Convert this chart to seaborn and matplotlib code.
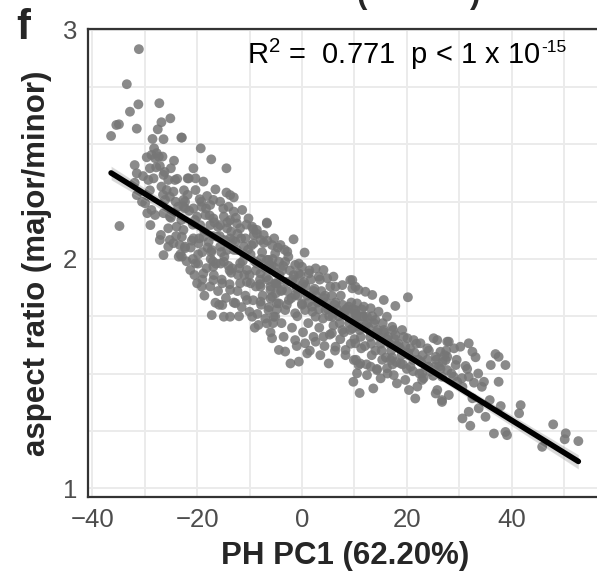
import matplotlib
matplotlib.use("Agg")
import matplotlib.pyplot as plt
import seaborn as sns
import pandas as pd

# ---- data (PH PC1, aspect ratio) ----
upper_left = [
    (-31.1, 2.916), (-33.4, 2.763), (-31.2, 2.675), (-32.8, 2.643), (-27.2, 2.680), (-35.4, 2.585),
    (-34.9, 2.588), (-36.4, 2.537), (-31.5, 2.569), (-26.8, 2.597), (-27.5, 2.566), (-25.1, 2.614),
    (-23.0, 2.530), (-28.5, 2.524), (-26.4, 2.523), (-28.2, 2.483), (-27.7, 2.462), (-28.0, 2.440),
    (-28.7, 2.454), (-27.3, 2.447), (-29.6, 2.444), (-26.6, 2.447), (-24.4, 2.429), (-31.9, 2.410),
    (-29.0, 2.396), (-27.1, 2.406), (-25.0, 2.396), (-31.5, 2.374), (-30.3, 2.362), (-29.3, 2.345),
    (-28.3, 2.352), (-26.4, 2.367), (-25.5, 2.345), (-24.2, 2.345), (-21.8, 2.352), (-31.9, 2.333),
    (-31.5, 2.279), (-26.8, 2.316), (-25.8, 2.301), (-24.5, 2.294), (-25.2, 2.272), (-29.9, 2.243),
    (-26.1, 2.258), (-24.1, 2.250), (-22.6, 2.258), (-23.6, 2.228), (-22.3, 2.221), (-28.7, 2.214),
    (-28.0, 2.192), (-26.4, 2.200), (-25.2, 2.185), (-34.8, 2.144), (-28.9, 2.148), (-25.5, 2.134),
    (-23.9, 2.141), (-22.6, 2.127), (-26.9, 2.105), (-27.1, 2.083), (-25.2, 2.083), (-24.5, 2.069),
    (-25.5, 2.054), (-23.3, 2.061), (-22.3, 2.047), (-26.4, 2.017), (-23.5, 2.010),
    (-27.8, 2.400), (-26.2, 2.380), (-25.0, 2.180), (-23.8, 2.350), (-22.5, 2.300), (-24.8, 2.200),
    (-23.0, 2.170), (-21.8, 2.280), (-26.5, 2.280), (-29.0, 2.300), (-30.5, 2.250), (-29.5, 2.200),
]

left_core = [
    (-22.9, 2.530), (-19.3, 2.483), (-17.3, 2.435), (-14.4, 2.396), (-20.7, 2.396), (-21.6, 2.352),
    (-20.3, 2.352), (-18.8, 2.338), (-20.3, 2.301), (-16.5, 2.304), (-18.1, 2.275), (-19.5, 2.261),
    (-16.9, 2.258), (-14.4, 2.290), (-13.7, 2.279), (-13.0, 2.269), (-22.3, 2.250), (-22.6, 2.228),
    (-20.7, 2.221), (-19.1, 2.228), (-17.5, 2.236), (-15.6, 2.250), (-14.0, 2.228), (-11.4, 2.214),
    (-13.0, 2.207), (-20.0, 2.185), (-18.4, 2.192), (-16.9, 2.177), (-14.9, 2.185), (-13.7, 2.170),
    (-12.4, 2.155), (-10.2, 2.177), (-19.4, 2.148), (-17.5, 2.148), (-15.6, 2.148), (-14.3, 2.134),
    (-11.8, 2.134), (-6.7, 2.155), (-9.5, 2.141), (-8.6, 2.127), (-22.9, 2.097), (-22.3, 2.054),
    (-22.9, 2.010), (-20.7, 2.090), (-19.7, 2.068), (-18.8, 2.097), (-17.8, 2.075), (-16.2, 2.097),
    (-14.9, 2.083), (-13.7, 2.090), (-12.7, 2.075), (-15.6, 2.054), (-17.2, 2.039), (-14.3, 2.039),
    (-12.4, 2.039), (-11.1, 2.054), (-9.2, 2.068), (-7.9, 2.083), (-7.3, 2.105), (-9.2, 2.105),
    (-10.8, 2.090), (-20.3, 1.981), (-21.3, 1.952), (-18.8, 1.937), (-16.9, 1.966), (-14.9, 1.988),
    (-13.3, 1.959), (-11.8, 1.981), (-10.5, 1.952), (-8.6, 1.981), (-6.7, 1.996), (-7.9, 1.937),
    (-5.4, 1.966), (-20.0, 1.894), (-19.1, 1.879), (-16.9, 1.908), (-15.2, 1.894), (-13.7, 1.865),
    (-11.8, 1.894), (-9.8, 1.894), (-7.9, 1.879), (-6.0, 1.865), (-4.8, 1.894), (-16.5, 1.809),
    (-15.2, 1.799), (-12.7, 1.807), (-10.5, 1.821), (-7.9, 1.814), (-6.0, 1.828), (-4.8, 1.807),
    (-17.2, 1.755), (-14.9, 1.748), (-13.7, 1.748), (-9.5, 1.748), (-8.3, 1.712), (-6.7, 1.719),
    (-5.4, 1.748),
]

mid_core = [
    (-6.7, 2.159), (-1.6, 2.086), (0.5, 2.028), (-5.7, 2.061), (-4.1, 2.061), (-2.8, 2.032),
    (-5.1, 2.025), (-6.4, 1.996), (-4.4, 1.988), (-3.2, 1.988), (-1.3, 1.974), (0.0, 1.966),
    (2.6, 1.959), (4.1, 1.952), (6.0, 1.923), (1.3, 1.937), (-0.6, 1.937), (3.2, 1.923),
    (4.8, 1.916), (9.2, 1.908), (7.7, 1.886), (9.6, 1.872), (10.8, 1.865), (6.4, 1.879),
    (-6.4, 1.908), (-5.1, 1.894), (-3.8, 1.865), (-5.7, 1.835), (-4.4, 1.806), (-2.5, 1.821),
    (-1.3, 1.843), (0.0, 1.806), (-3.2, 1.777), (-1.3, 1.763), (0.6, 1.777), (1.9, 1.792),
    (3.2, 1.814), (4.5, 1.777), (2.6, 1.748), (5.8, 1.748), (7.7, 1.763), (8.9, 1.792),
    (10.2, 1.777), (11.5, 1.748), (-5.1, 1.748), (-6.4, 1.777), (-5.7, 1.654), (-4.4, 1.603),
    (-3.2, 1.596), (-1.3, 1.646), (0.6, 1.632), (1.0, 1.588), (2.6, 1.639), (4.1, 1.661),
    (5.7, 1.676), (7.7, 1.690), (9.6, 1.697), (10.8, 1.705), (6.4, 1.617), (8.3, 1.603),
    (10.2, 1.632), (-2.2, 1.544), (-0.6, 1.552), (5.1, 1.544), (10.8, 1.537),
]

right_core = [
    (9.6, 1.908), (10.2, 1.879), (12.1, 1.857), (13.4, 1.843), (15.6, 1.821), (17.8, 1.795),
    (20.2, 1.833), (10.5, 1.806), (11.8, 1.792), (13.1, 1.785), (14.6, 1.770), (16.2, 1.748),
    (10.2, 1.763), (12.4, 1.748), (14.0, 1.734), (17.2, 1.704), (19.1, 1.690), (17.8, 1.668),
    (15.6, 1.690), (20.1, 1.654), (21.3, 1.646), (22.6, 1.632), (25.1, 1.654), (27.7, 1.639),
    (23.9, 1.610), (26.4, 1.595), (27.7, 1.573), (25.5, 1.573), (9.9, 1.559), (11.1, 1.544),
    (13.1, 1.530), (10.5, 1.501), (12.4, 1.493), (14.3, 1.515), (16.2, 1.523), (15.0, 1.479),
    (17.5, 1.493), (18.1, 1.457), (19.7, 1.472), (20.4, 1.428), (22.0, 1.443), (22.9, 1.472),
    (21.6, 1.391), (25.5, 1.413), (26.7, 1.376), (16.9, 1.559), (18.8, 1.544), (20.7, 1.530),
    (22.9, 1.501), (24.5, 1.508), (9.8, 1.464), (11.0, 1.415), (13.6, 1.435),
]

right_tail = [
    (25.8, 1.646), (28.0, 1.639), (30.2, 1.617), (31.8, 1.632), (32.5, 1.595), (33.1, 1.571),
    (36.9, 1.585), (37.5, 1.573), (36.0, 1.537), (38.8, 1.537), (27.4, 1.559), (26.1, 1.530),
    (27.7, 1.515), (29.3, 1.537), (31.2, 1.533), (26.7, 1.486), (28.9, 1.486), (29.6, 1.464),
    (31.8, 1.486), (30.6, 1.442), (34.7, 1.464), (34.3, 1.442), (37.5, 1.464), (25.8, 1.428),
    (26.7, 1.384), (28.0, 1.406), (32.5, 1.392), (35.8, 1.384), (37.9, 1.358), (41.7, 1.362),
    (41.4, 1.326), (31.8, 1.333), (30.6, 1.304), (32.1, 1.272), (33.7, 1.348), (35.0, 1.311),
    (36.6, 1.238), (38.8, 1.245), (39.1, 1.231), (47.9, 1.278), (50.3, 1.239), (50.1, 1.213),
    (52.7, 1.205), (45.8, 1.180), (28.5, 1.500), (29.5, 1.560), (30.5, 1.480), (31.5, 1.520),
    (32.8, 1.460), (33.6, 1.500), (27.5, 1.600), (29.0, 1.610),
]

dense_upper = [
    (-21.5, 2.21), (-21.0, 2.08), (-20.4, 2.17), (-19.8, 2.02), (-19.2, 2.25), (-18.6, 2.12),
    (-18.0, 2.05), (-17.6, 2.19), (-17.0, 2.10), (-16.4, 1.98), (-16.0, 2.14), (-15.4, 2.03),
    (-15.0, 2.22), (-14.6, 2.08), (-14.0, 1.97), (-13.5, 2.12), (-13.0, 2.04), (-12.6, 2.18),
    (-12.0, 1.96), (-11.6, 2.09), (-11.0, 2.02), (-10.6, 2.15), (-10.0, 1.93), (-9.6, 2.06),
    (-9.0, 1.99), (-8.6, 2.11), (-8.0, 1.91), (-7.6, 2.03), (-7.0, 1.96), (-6.6, 2.08),
    (-6.0, 1.88), (-5.6, 2.00), (-5.0, 1.94), (-4.6, 2.05), (-4.0, 1.86), (-3.6, 1.97),
    (-3.0, 1.90), (-2.6, 2.01), (-2.0, 1.83), (-1.6, 1.93), (-1.0, 1.87), (-0.6, 1.98),
    (0.0, 1.80), (0.4, 1.90), (1.0, 1.84), (1.4, 1.95), (2.0, 1.77), (2.4, 1.87),
    (3.0, 1.81), (3.4, 1.91), (4.0, 1.74), (4.4, 1.84), (5.0, 1.78), (5.4, 1.88),
    (6.0, 1.71), (6.4, 1.81), (7.0, 1.75), (7.4, 1.84), (8.0, 1.68), (8.4, 1.78),
    (9.0, 1.72), (9.4, 1.81), (10.0, 1.65), (10.4, 1.75), (11.0, 1.69), (11.4, 1.78),
    (12.0, 1.62), (12.4, 1.72), (13.0, 1.66), (13.4, 1.75), (14.0, 1.60), (14.4, 1.69),
    (15.0, 1.63), (15.4, 1.72), (16.0, 1.57), (16.4, 1.66), (17.0, 1.60), (17.4, 1.69),
    (18.0, 1.55), (18.4, 1.63), (19.0, 1.58), (19.4, 1.66), (20.0, 1.52), (20.6, 1.61),
    (21.2, 1.56), (21.8, 1.63), (22.4, 1.50), (23.0, 1.58), (23.6, 1.53), (24.2, 1.60),
    (25.0, 1.49), (25.6, 1.56), (26.4, 1.52), (27.2, 1.58),
]

dense_middle = [
    (-20.8, 2.15), (-19.6, 2.09), (-18.3, 2.22), (-17.3, 2.03), (-16.7, 2.16), (-15.7, 2.10),
    (-14.8, 2.01), (-14.2, 2.16), (-13.2, 2.08), (-12.3, 2.11), (-11.3, 1.99), (-10.3, 2.04),
    (-9.3, 2.13), (-8.3, 1.98), (-7.3, 2.07), (-6.3, 1.97), (-5.3, 2.09), (-4.3, 1.93),
    (-3.3, 2.04), (-2.3, 1.95), (-1.3, 1.90), (-0.3, 1.93), (0.7, 1.88), (1.7, 1.91),
    (2.7, 1.84), (3.7, 1.86), (4.7, 1.81), (5.7, 1.84), (6.7, 1.78), (7.7, 1.80),
    (8.7, 1.76), (9.7, 1.78), (10.7, 1.72), (11.7, 1.75), (12.7, 1.70), (13.7, 1.72),
    (14.7, 1.66), (15.7, 1.68), (16.7, 1.63), (17.7, 1.65), (18.7, 1.61), (19.7, 1.62),
    (20.3, 1.58), (21.5, 1.59), (22.7, 1.55), (23.9, 1.56), (25.3, 1.53), (26.8, 1.55),
]

dense_lower = [
    (-4.8, 1.78), (-3.9, 1.72), (-2.9, 1.80), (-1.9, 1.70), (-0.9, 1.75), (0.2, 1.68),
    (1.2, 1.72), (2.2, 1.66), (3.3, 1.70), (4.3, 1.62), (5.3, 1.67), (6.3, 1.60),
    (7.3, 1.65), (8.3, 1.58), (9.3, 1.63), (10.3, 1.56), (11.3, 1.61), (12.3, 1.54),
    (13.3, 1.58), (14.3, 1.52), (15.3, 1.56), (16.3, 1.50), (17.3, 1.54), (-7.5, 1.84),
    (-8.8, 1.88), (-10.5, 1.90), (-12.2, 1.93), (-13.8, 1.95), (-15.5, 1.98), (-17.4, 2.00),
    (-19.0, 2.03),
]

left_low = [
    (-24.0, 2.10), (-23.2, 2.02), (-22.0, 1.99), (-21.2, 2.05), (-20.5, 1.93), (-19.8, 1.98),
    (-19.0, 1.91), (-18.2, 1.96), (-17.5, 1.88), (-16.8, 1.93), (-16.0, 1.86), (-15.3, 1.91),
    (-14.5, 1.83), (-13.8, 1.89), (-13.0, 1.81), (-12.3, 1.86), (-11.5, 1.79), (-10.8, 1.84),
    (-10.0, 1.77), (-9.3, 1.82), (-8.5, 1.76), (-7.8, 1.80), (-7.0, 1.74), (-6.3, 1.79),
    (-5.5, 1.72), (-18.6, 1.84), (-15.8, 1.80), (-12.0, 1.75), (-9.0, 1.70), (-6.0, 1.68),
    (-3.5, 1.66), (-1.0, 1.62), (1.5, 1.60), (3.5, 1.58), (-20.8, 2.00), (-17.0, 1.99),
    (-13.5, 1.94), (-11.0, 1.93), (-8.0, 1.89), (-5.0, 1.85),
]

core_band = [
    (-9.8, 2.02), (-8.8, 1.95), (-7.8, 2.00), (-6.8, 1.92), (-5.8, 1.97), (-4.8, 1.89),
    (-3.8, 1.95), (-2.8, 1.86), (-1.8, 1.91), (-0.8, 1.84), (0.2, 1.89), (1.2, 1.81),
    (2.2, 1.86), (3.2, 1.78), (4.2, 1.83), (5.2, 1.75), (6.2, 1.80), (7.2, 1.72),
    (8.2, 1.77), (9.2, 1.69), (10.2, 1.74), (11.2, 1.66), (12.2, 1.71), (13.2, 1.63),
    (14.2, 1.68), (15.2, 1.60), (16.2, 1.65), (17.2, 1.57), (18.2, 1.62), (19.2, 1.54),
    (20.2, 1.59), (21.2, 1.51), (22.2, 1.56), (23.2, 1.48), (24.2, 1.53),
]

x_major = [-40, -20, 0, 20, 40]
x_minor = [-30, -10, 10, 30, 50]
y_major = [1, 2, 3]
y_minor = [1.25, 1.5, 1.75, 2.25, 2.5, 2.75]

points = (upper_left + left_core + mid_core + right_core + right_tail
          + dense_upper + dense_middle + dense_lower + left_low + core_band)
df = pd.DataFrame(points, columns=["pc1", "aspect"])

sns.set_style("white")
plt.rcParams["font.family"] = ["Liberation Sans", "DejaVu Sans"]
plt.rcParams["mathtext.default"] = "regular"

fig = plt.figure(figsize=(5.97, 5.72), dpi=100)
ax = fig.add_axes([88 / 597, 1 - 497 / 572, 515 / 597, 468 / 572])

sns.regplot(data=df, x="pc1", y="aspect", ax=ax, ci=95, seed=0, truncate=True,
            scatter_kws=dict(s=50, color="#767676", alpha=0.85, edgecolor="none", linewidths=0),
            line_kws=dict(color="black", lw=4))

ax.set_xlim(-40.8, 57.4)
ax.set_ylim(0.961, 3.004)
ax.set_xticks(x_major)
ax.set_xticks(x_minor, minor=True)
ax.set_yticks(y_major)
ax.set_yticks(y_minor, minor=True)
ax.grid(which="both", color="#ebebeb", lw=1.4)
ax.set_axisbelow(True)
ax.tick_params(which="major", length=5, width=1.1, color="#333333",
               labelsize=18.5, labelcolor="#4d4d4d", pad=3)
ax.tick_params(which="minor", length=0)
for side in ["top", "left", "bottom", "right"]:
    ax.spines[side].set_linewidth(1.6)
    ax.spines[side].set_color("#333333")

ax.set_xlabel("PH PC1 (62.20%)", fontsize=22.5, fontweight="bold")
ax.set_ylabel("aspect ratio (major/minor)", fontsize=22.5, fontweight="bold")
ax.xaxis.set_label_coords(0.499, -0.093)
ax.yaxis.set_label_coords(-0.070, 0.5)

stat = ax.text(-10.42, 2.852, r"R$^2$ =  0.771  p < 1 x 10", fontsize=21,
               ha="left", va="baseline", color="black")
ax.annotate("-15", xy=(1.0, 1.0), xycoords=stat, xytext=(0.5, -2.5),
            textcoords="offset points", ha="left", va="top", fontsize=12.5, color="black")

fig.text(16 / 597, 1 - 8 / 572, "f", fontsize=30, fontweight="bold", ha="left", va="top")
fig.text(357 / 597, 1 - 3 / 572, "(", fontsize=22.5, fontweight="bold", ha="left", va="baseline")
fig.text(470 / 597, 1 - 3 / 572, ")", fontsize=22.5, fontweight="bold", ha="left", va="baseline")

fig.savefig("out.png", dpi=100)
